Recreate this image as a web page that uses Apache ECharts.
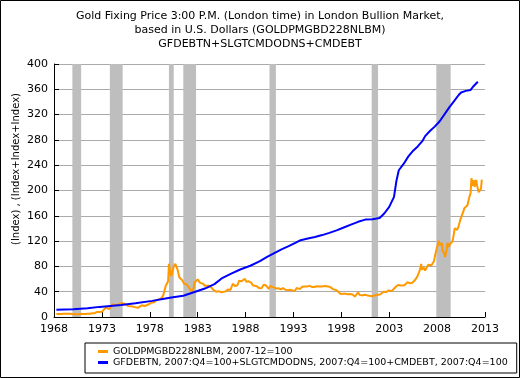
<!DOCTYPE html>
<html>
<head>
<meta charset="utf-8">
<script src="https://cdn.jsdelivr.net/npm/echarts@6/dist/echarts.min.js"></script>
<style>
html,body{margin:0;padding:0;background:#fff;}
#chart{width:520px;height:378px;}
</style>
</head>
<body>
<div id="chart"></div>
<script>
// ---- Data ----
var titleLines = [
  'Gold Fixing Price 3:00 P.M. (London time) in London Bullion Market,',
  'based in U.S. Dollars (GOLDPMGBD228NLBM)',
  'GFDEBTN+SLGTCMDODNS+CMDEBT'
];
var yAxisName = '(Index) , (Index+Index+Index)';
var seriesNames = [
  'GOLDPMGBD228NLBM, 2007-12=100',
  'GFDEBTN, 2007:Q4=100+SLGTCMDODNS, 2007:Q4=100+CMDEBT, 2007:Q4=100'
];
var xStartYear = 1968;
var xTickLabels = [1968, 1973, 1978, 1983, 1988, 1993, 1998, 2003, 2008, 2013];
var yTickLabels = [0, 40, 80, 120, 160, 200, 240, 280, 320, 360, 400];

// Gold index (monthly, YYYY-MM)
var goldDates = [
 '1968-04','1968-07','1968-10','1969-01','1969-04','1969-07','1969-10','1970-01','1970-04','1970-07','1970-10',
 '1971-01','1971-04','1971-07','1971-10','1972-01','1972-04','1972-07','1972-10','1973-01','1973-03','1973-06',
 '1973-07','1973-10','1973-12','1974-02','1974-04','1974-06','1974-08','1974-10','1974-12','1975-02','1975-04',
 '1975-06','1975-08','1975-10','1975-12','1976-03','1976-06','1976-08','1976-10','1976-12','1977-03','1977-06',
 '1977-09','1977-12','1978-03','1978-06','1978-09','1978-11','1979-01','1979-04','1979-06','1979-08','1979-09',
 '1979-10','1979-11','1979-12','1980-01','1980-02','1980-03','1980-04','1980-05','1980-06','1980-07','1980-08',
 '1980-09','1980-10','1980-11','1980-12','1981-02','1981-04','1981-06','1981-08','1981-09','1981-11','1981-12',
 '1982-02','1982-04','1982-06','1982-08','1982-09','1982-11','1983-01','1983-02','1983-04','1983-06','1983-08',
 '1983-10','1983-12','1984-03','1984-06','1984-09','1984-12','1985-02','1985-04','1985-07','1985-09','1985-12',
 '1986-03','1986-06','1986-09','1986-10','1986-12','1987-03','1987-05','1987-08','1987-10','1987-12','1988-02',
 '1988-05','1988-08','1988-10','1988-12','1989-03','1989-06','1989-09','1989-12','1990-01','1990-03','1990-06',
 '1990-08','1990-10','1990-12','1991-03','1991-06','1991-09','1991-12','1992-03','1992-06','1992-09','1992-12',
 '1993-03','1993-05','1993-07','1993-09','1993-12','1994-03','1994-06','1994-09','1994-12','1995-03','1995-06',
 '1995-09','1995-12','1996-02','1996-05','1996-08','1996-11','1996-12','1997-03','1997-06','1997-09','1997-12',
 '1998-03','1998-06','1998-09','1998-12','1999-03','1999-06','1999-08','1999-10','1999-12','2000-02','2000-04',
 '2000-07','2000-10','2000-12','2001-03','2001-06','2001-09','2001-11','2002-01','2002-03','2002-06','2002-09',
 '2002-12','2003-02','2003-04','2003-06','2003-09','2003-12','2004-02','2004-04','2004-05','2004-08','2004-10',
 '2004-12','2005-03','2005-06','2005-09','2005-11','2005-12','2006-02','2006-04','2006-05','2006-06','2006-08',
 '2006-10','2006-12','2007-02','2007-04','2007-06','2007-08','2007-09','2007-10','2007-11','2007-12','2008-01',
 '2008-02','2008-03','2008-04','2008-05','2008-06','2008-07','2008-08','2008-09','2008-10','2008-11','2008-12',
 '2009-01','2009-02','2009-03','2009-04','2009-05','2009-06','2009-07','2009-08','2009-09','2009-10','2009-11',
 '2009-12','2010-02','2010-04','2010-06','2010-08','2010-10','2010-11','2010-12','2011-01','2011-03','2011-05',
 '2011-07','2011-08','2011-09','2011-10','2011-11','2011-12','2012-01','2012-02','2012-03','2012-04','2012-05',
 '2012-06','2012-07','2012-08','2012-09'
];
var goldValues = [
 4.7,4.9,4.8,5.2,5.3,5.1,5.0,4.4,4.4,4.4,4.6,
 4.7,4.8,5.1,5.3,5.8,6.0,8.0,8.0,8.2,10.4,15.3,
 15.2,12.4,13.3,19.6,21.2,19.0,19.3,19.8,22.8,22.2,21.0,
 20.8,20.2,17.3,17.4,16.5,15.6,13.1,14.4,16.7,18.5,17.4,
 18.6,20.2,22.8,22.9,26.5,24.3,28.2,29.9,34.7,37.5,49.3,
 48.9,48.8,56.6,84.0,82.9,69.1,64.4,64.0,74.8,80.2,78.2,
 84.0,82.3,77.6,73.9,62.9,61.4,57.4,52.5,55.2,51.8,51.1,
 46.7,43.7,39.3,46.2,54.6,51.6,59.5,61.3,53.9,51.4,52.5,
 49.3,47.4,49.3,47.0,42.5,40.0,37.3,40.6,39.2,39.1,40.5,
 43.5,42.7,52.5,53.5,48.7,50.6,57.4,56.5,58.6,60.5,55.8,
 56.4,54.5,50.3,52.8,48.6,45.7,45.4,51.3,51.4,49.4,44.4,
 49.2,47.4,46.9,45.2,45.5,43.7,45.7,43.1,42.5,43.0,41.9,
 41.3,46.1,49.0,44.1,47.7,48.1,48.3,49.2,47.5,47.4,48.5,
 48.2,48.1,50.4,48.9,48.4,47.4,46.1,43.7,42.9,40.2,36.3,
 36.8,36.6,36.1,36.3,35.5,32.4,31.9,38.8,34.7,37.1,34.4,
 35.0,33.9,33.9,32.9,33.7,35.2,34.1,35.2,36.9,40.0,39.4,
 41.9,44.8,40.9,43.7,47.5,50.7,50.5,49.8,48.1,50.2,52.3,
 54.9,53.2,54.1,58.0,59.4,63.4,69.6,76.8,84.0,74.7,78.1,
 73.6,78.3,82.6,84.3,81.7,82.3,88.0,94.1,100.3,100.0,110.7,
 115.6,120.5,113.5,110.9,110.9,117.0,104.1,103.2,100.5,94.7,101.6,
 106.8,117.4,114.4,110.6,115.2,117.6,116.5,119.0,124.6,131.3,140.4,
 141.2,137.7,143.8,153.5,153.3,167.3,171.7,173.2,168.8,176.8,187.7,
 196.6,219.3,220.6,207.3,216.5,205.6,206.2,216.9,208.4,205.4,197.3,
 198.7,198.5,203.0,217.1
];

// Debt index (quarterly, decimal years)
var debtDates = [
 1968.25,1970.0,1971.5,1972.75,1975.0,1976.5,1978.25,1979.5,1980.25,1981.5,1982.75,
 1983.75,1984.75,1985.5,1986.5,1987.5,1988.5,1989.5,1990.25,1991.0,1991.75,1992.5,
 1993.25,1993.75,1994.5,1995.25,1996.0,1996.75,1997.5,1998.25,1999.0,1999.75,2000.5,
 2001.25,2002.0,2002.5,2003.0,2003.5,2003.75,2004.0,2004.5,2005.0,2005.5,2006.0,
 2006.5,2006.75,2007.25,2007.75,2008.25,2008.75,2009.25,2009.75,2010.25,2010.5,2011.0,
 2011.5,2011.75,2012.0,2012.25
];
var debtValues = [
 11.3,12.3,13.7,16.0,19.0,21.6,25.5,29.0,30.8,33.7,40.0,
 45.0,52.0,61.0,68.5,75.5,81.0,88.5,95.0,101.0,107.0,112.0,
 117.5,121.5,124.0,126.5,129.5,133.0,137.0,141.5,146.0,150.5,154.0,
 154.5,156.5,164.0,174.0,190.0,215.0,232.0,242.0,254.0,263.0,270.0,
 279.0,286.0,294.0,301.0,309.0,320.0,331.0,341.0,351.0,355.0,357.5,
 359.0,364.0,368.0,372.0
];

// NBER recessions
var recessions = [
 ['1969-12','1970-11'],['1973-11','1975-03'],['1980-01','1980-07'],['1981-07','1982-11'],
 ['1990-07','1991-03'],['2001-03','2001-11'],['2007-12','2009-06']
];

// ---- Build ----
function ym(s){ var p = s.split('-'); return +p[0] + (+p[1]-1)/12 - xStartYear; }
var goldData = goldDates.map(function(d,i){ return [ym(d), goldValues[i]]; });
var debtData = debtDates.map(function(d,i){ return [d - xStartYear, debtValues[i]]; });
var bands = recessions.map(function(r){ return [{xAxis: ym(r[0])}, {xAxis: ym(r[1])}]; });

var FONT = 'DejaVu Sans';
var chart = echarts.init(document.getElementById('chart'), null, {renderer:'canvas'});
chart.setOption({
  animation: false,
  backgroundColor: '#fff',
  textStyle: {fontFamily: FONT},
  title: {
    text: titleLines.join('\n'),
    left: 'center', top: 4,
    textStyle: {fontFamily: FONT, fontSize: 11, fontWeight: 'normal', color: '#000', lineHeight: 14}
  },
  grid: {left: 54, right: 35, top: 64, bottom: 61, containLabel: false},
  xAxis: {
    type: 'value', min: 0, max: xTickLabels[xTickLabels.length-1] - xStartYear, interval: 5,
    axisLine: {show: true, lineStyle: {color: '#000', width: 1}},
    axisTick: {show: true, inside: true, length: 5, lineStyle: {color: '#000'}},
    axisLabel: {color: '#000', fontSize: 11, fontFamily: FONT, margin: 7,
      formatter: function(v){ return String(xStartYear + v); }},
    splitLine: {show: false}
  },
  yAxis: {
    type: 'value', min: yTickLabels[0], max: yTickLabels[yTickLabels.length-1], interval: 40,
    axisLine: {show: true, lineStyle: {color: '#000', width: 1}},
    axisTick: {show: true, inside: true, length: 5, lineStyle: {color: '#000'}},
    axisLabel: {color: '#000', fontSize: 11, fontFamily: FONT, margin: 6},
    splitLine: {show: true, lineStyle: {color: '#aaaaaa', width: 1}}
  },
  legend: {
    orient: 'vertical', left: 85, top: 343,
    data: seriesNames,
    borderColor: '#000', borderWidth: 1, borderRadius: 0,
    padding: [3, 9, 5, 13],
    itemWidth: 10, itemHeight: 3, itemGap: 0,
    icon: 'rect',
    textStyle: {color: '#000', fontSize: 9.5, fontFamily: FONT, lineHeight: 11}
  },
  graphic: [
    {type: 'text', x: 16, y: 169, rotation: Math.PI/2,
     style: {text: yAxisName, fill: '#000', font: '10px "DejaVu Sans"', align: 'center', verticalAlign: 'middle'}},
    {type: 'rect', shape: {x: 0.5, y: 0.5, width: 519, height: 377},
     style: {fill: 'none', stroke: '#000', lineWidth: 1}, z: 100}
  ],
  series: [
    {type: 'line', name: '_recessions', data: [], z: 1, silent: true,
     markArea: {silent: true, itemStyle: {color: '#bebebe', opacity: 1}, data: bands}},
    {type: 'line', name: seriesNames[0], data: goldData, showSymbol: false, z: 3,
     lineStyle: {color: '#ff9900', width: 2}, itemStyle: {color: '#ff9900'}},
    {type: 'line', name: seriesNames[1], data: debtData, showSymbol: false, z: 4,
     lineStyle: {color: '#0000ff', width: 2}, itemStyle: {color: '#0000ff'}}
  ]
});
</script>
</body>
</html>
